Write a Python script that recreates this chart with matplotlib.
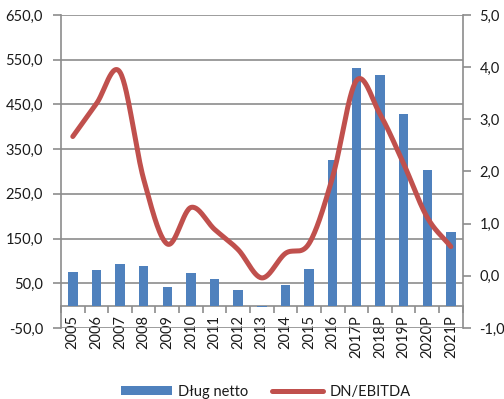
import numpy as np
import matplotlib
matplotlib.use("Agg")
import matplotlib.pyplot as plt
from matplotlib.ticker import FuncFormatter, FixedLocator

# Data
years = ["2005", "2006", "2007", "2008", "2009", "2010", "2011", "2012", "2013",
         "2014", "2015", "2016", "2017P", "2018P", "2019P", "2020P", "2021P"]
dlug_netto = [76, 79, 93, 88, 41, 72, 60, 34, -4, 45, 82, 326, 532, 516, 429, 304, 165]
dn_ebitda = [2.67, 3.30, 3.90, 1.85, 0.61, 1.31, 0.89, 0.50, -0.04, 0.43, 0.62,
             1.90, 3.74, 3.10, 2.15, 1.12, 0.56]

left_ticks = [-50, 50, 150, 250, 350, 450, 550, 650]
right_ticks = [-1, 0, 1, 2, 3, 4, 5]

BAR_COLOR = "#4F81BD"
LINE_COLOR = "#C0504D"
GRID_COLOR = "#8C8C8C"
TEXT_COLOR = "#1A1A1A"
FONT = ["Lato", "DejaVu Sans"]
FS = 10.5

plt.rcParams["font.family"] = FONT
plt.rcParams["font.size"] = FS


def smooth_curve(y, steps=30):
    """Catmull-Rom spline through the points (index, value)."""
    y = np.asarray(y, dtype=float)
    x = np.arange(len(y), dtype=float)
    px = np.concatenate([[2 * x[0] - x[1]], x, [2 * x[-1] - x[-2]]])
    py = np.concatenate([[2 * y[0] - y[1]], y, [2 * y[-1] - y[-2]]])
    xs, ys = [], []
    t = np.linspace(0, 1, steps, endpoint=False)
    for i in range(1, len(px) - 2):
        for arr, out in ((px, xs), (py, ys)):
            p0, p1, p2, p3 = arr[i - 1], arr[i], arr[i + 1], arr[i + 2]
            out.extend(0.5 * ((2 * p1) + (-p0 + p2) * t
                              + (2 * p0 - 5 * p1 + 4 * p2 - p3) * t ** 2
                              + (-p0 + 3 * p1 - 3 * p2 + p3) * t ** 3))
    xs.append(x[-1])
    ys.append(y[-1])
    return np.array(xs), np.array(ys)


fig = plt.figure(figsize=(5.04, 3.99), dpi=100)
ax = fig.add_axes([0.121, 0.178, 0.797, 0.7845])
ax2 = ax.twinx()

idx = np.arange(len(years))
ax.bar(idx, dlug_netto, width=0.4, color=BAR_COLOR, zorder=3, label="Dług netto")

sx, sy = smooth_curve(dn_ebitda)
ax2.plot(sx, sy, color=LINE_COLOR, lw=3.6, solid_capstyle="round",
         solid_joinstyle="round", zorder=4, label="DN/EBITDA")

ax.set_xlim(-0.5, len(years) - 0.5)
ax.set_ylim(left_ticks[0], left_ticks[-1])
ax2.set_ylim(right_ticks[0], right_ticks[-1])

# Decimal comma, plain hyphen for negatives
comma = FuncFormatter(lambda v, p: f"{v:.1f}".replace(".", ","))
ax.yaxis.set_major_locator(FixedLocator(left_ticks))
ax.yaxis.set_major_formatter(comma)
ax2.yaxis.set_major_locator(FixedLocator(right_ticks))
ax2.yaxis.set_major_formatter(comma)

# Horizontal grid from the left scale
ax.grid(axis="y", color=GRID_COLOR, lw=1.2, zorder=0)
ax.set_axisbelow(True)

# Category axis crosses at zero
for a in (ax, ax2):
    a.spines["top"].set_visible(False)
    for s in a.spines.values():
        s.set_color(GRID_COLOR)
        s.set_linewidth(1.2)
ax.spines["bottom"].set_position(("data", 0))
ax2.spines["bottom"].set_visible(False)
ax.spines["right"].set_visible(False)
ax2.spines["left"].set_visible(False)

ax.set_xticks(idx)
ax.set_xticklabels(years, rotation=90, color=TEXT_COLOR)
ax.set_xticks(np.arange(len(years) + 1) - 0.5, minor=True)
ax.tick_params(axis="x", which="major", length=0, pad=7)
ax.tick_params(axis="x", which="minor", length=5, width=1.2, color=GRID_COLOR,
               direction="out")
for lbl in ax.get_xticklabels():
    lbl.set_bbox(dict(facecolor="white", edgecolor="none", pad=0.5))
ax.tick_params(axis="y", length=6, width=1.2, color=GRID_COLOR, pad=7,
               labelcolor=TEXT_COLOR)
ax2.tick_params(axis="y", length=6, width=1.2, color=GRID_COLOR, pad=6,
                labelcolor=TEXT_COLOR)

h1, l1 = ax.get_legend_handles_labels()
h2, l2 = ax2.get_legend_handles_labels()
leg = fig.legend(h1 + h2, l1 + l2, loc="center", bbox_to_anchor=(0.527, 0.018),
                 ncol=2, frameon=False, handlelength=3.5, handleheight=0.55,
                 handletextpad=0.45, columnspacing=1.6, fontsize=FS)
for t in leg.get_texts():
    t.set_color(TEXT_COLOR)

fig.savefig("out.png", dpi=100)
